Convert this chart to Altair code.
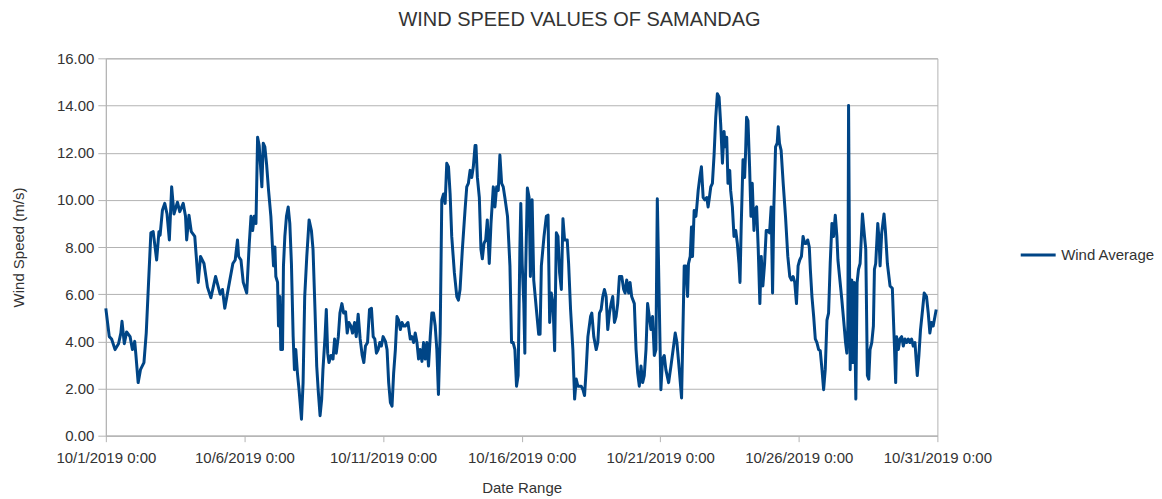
import altair as alt
import pandas as pd

# hours elapsed since 2019-10-01 00:00 (UTC) and wind speed (m/s)
hours = [
    0, 3, 5, 8, 11, 13, 14, 16, 18, 21, 23, 25, 26, 28, 30, 33, 35, 37, 39, 41, 44, 46, 47, 49, 51, 53, 55, 57, 59, 62,
    64, 67, 69, 70, 72, 74, 77, 80, 82, 85, 88, 91, 95, 99, 101, 103, 107, 110, 112, 114, 115, 117, 119, 122,
    124.2, 125.7, 127.1, 128.5, 130.0, 131.4, 132.8, 135.1, 136.3, 137.7, 139.2, 140.9, 142.9, 144.3, 145.2, 146.4,
    147.2, 148.7, 149.5, 150.7, 151.5, 153.0, 153.8, 155.0, 156.4, 157.9, 159.3, 160.7, 162.2, 163.3, 164.5, 165.9,
    167.3, 169.4, 170.8, 172.2, 174.0, 176.0, 178.0, 179.4, 181.1, 182.6, 184.0, 185.5, 186.9, 188.0, 189.8, 190.9,
    192.1, 193.2, 195.0, 196.7, 198.1, 199.5, 201.3, 202.7, 204.4, 205.9, 207.6, 209.0, 210.5, 212.2, 213.6, 215.4,
    216.8, 218.5, 220.2, 222.0, 223.4, 224.8, 226.6, 228.3, 230.0, 231.5, 232.9, 234.3, 235.8, 237.2, 238.6, 240.1,
    242.1, 243.5,
    244.9, 246.4, 247.8, 249.2, 250.7, 252.1, 253.5, 255.0, 256.4, 257.9, 259.3, 261.6, 263.6, 265.0, 266.5, 267.9,
    269.4, 270.8, 272.2, 273.7, 275.1, 276.5, 278.0, 279.4, 280.9, 282.3, 283.7, 285.2, 286.6, 288.0, 289.5, 290.9,
    292.4, 293.8, 295.2, 296.7, 298.1, 299.5, 301.8, 303.9, 305.3, 306.7, 308.7, 311.0, 312.5, 313.9, 315.4, 316.8,
    318.2, 319.7, 320.5, 321.7, 323.4, 324.8, 326.0, 327.4, 328.9, 330.3, 332.0, 333.5, 335.5, 336.9, 338.4, 339.8,
    341.2, 342.7, 344.1, 345.5, 347.8, 349.9, 351.3, 352.7, 354.2, 355.6, 357.0, 358.5, 359.3, 360.5, 361.9, 362.8,
    363.3, 365.0, 366.5, 367.6, 369.1, 370.5, 372.8, 374.8, 376.0, 377.1, 379.4, 381.4, 382.9, 384.3, 385.7, 387.2,
    388.6, 390.1, 391.5, 392.9, 394.4, 395.8, 397.2, 399.5, 400.7, 402.4, 404.4, 405.9, 407.3, 408.7, 410.2, 411.6,
    413.1, 414.5, 415.9, 417.4, 419.7, 420.8, 422.5, 424.6, 426.0, 427.4, 428.9, 430.3, 431.7, 433.2, 434.6, 436.1,
    437.5, 438.9, 440.4, 441.8, 443.2, 444.7, 446.7, 448.4, 449.6, 451.0, 452.7, 453.9, 455.3, 457.6, 459.1, 460.5,
    461.9, 463.4, 464.8, 466.2, 467.7, 469.1, 470.6, 472.0, 473.4, 474.9, 476.3, 477.5, 480.6, 482.0, 483.5, 484.9,
    487.3, 489.3, 491.6, 493.0, 494.5, 496.5, 498.5, 500.8, 502.2, 503.7, 504.5, 506.0, 507.1, 508.0, 509.4, 510.9,
    511.7, 512.9, 514.3, 515.7, 517.2, 518.6, 520.3, 521.5, 522.6, 523.8, 525.2, 526.7, 528.1, 529.5, 531.0, 532.4,
    533.9, 535.3, 536.2, 537.6, 538.7, 540.2, 541.0, 542.5, 543.9, 545.4, 546.8, 548.2, 549.1, 550.2, 551.7, 553.1,
    554.0, 554.8, 556.0, 557.4, 558.6, 559.7, 561.2, 562.0, 563.5, 564.9, 566.3, 567.5, 568.9, 570.4, 571.8, 573.2,
    574.7, 576.1, 577.3, 578.4, 579.9, 581.3, 582.2, 583.3, 584.7, 586.5, 588.5, 590.5, 592.2, 593.7, 595.1, 596.5,
    598.0, 599.4, 600.8, 602.3, 603.7, 605.1,
    606.3, 607.7, 609.1, 610.0, 611.4, 612.9, 614.3, 615.7, 617.2, 618.6, 620.1, 621.5, 622.9, 624.4, 625.8, 627.2,
    628.7, 630.1, 631.6, 633.0, 633.9, 635.3, 637.3, 639.3, 640.5, 641.6, 642.5, 643.1, 644.5, 645.9, 646.8, 648.0,
    649.4, 650.5, 651.7, 653.1, 655.1, 656.9, 658.0, 659.4, 660.6, 661.7, 663.2, 664.6, 665.5, 666.6, 668.4, 669.5,
    670.4, 671.8, 673.8, 675.0, 676.7, 679.0, 681.0, 682.7, 683.9, 684.7, 686.2, 687.6, 689.1, 690.5, 691.9, 693.4,
    694.8, 696.2, 697.7, 699.1, 700.6, 702.6, 704.0, 705.4, 707.2, 708.6, 710.6, 712.1, 713.5, 714.9, 716.4, 719.0,
]

speeds = [
    5.4, 4.2, 4.1, 3.65, 3.9, 4.35, 4.85, 3.9, 4.4, 4.2, 3.65, 4.0, 3.45, 2.25, 2.8, 3.1, 4.36, 6.5, 8.6, 8.65, 7.45,
    8.65, 8.5, 9.56, 9.85, 9.4, 8.3, 10.55, 9.4, 9.9, 9.5, 9.85, 9.3, 8.3, 9.35, 8.65, 8.45, 6.5, 7.6, 7.3, 6.3, 5.85,
    6.75, 6.0, 6.2, 5.4, 6.5, 7.3, 7.45, 8.3, 7.6, 7.45, 6.5, 6.05,
    8.15, 9.3, 8.7, 9.3, 9.0, 12.65, 12.3, 10.55, 12.4, 12.25, 11.5, 10.4, 9.3, 8.0, 7.2, 8.0,
    6.75, 6.5, 4.65, 5.9, 3.65, 3.65, 7.2, 8.45, 9.3, 9.7, 9.0, 7.3, 4.2, 2.8, 3.65, 2.65,
    1.95, 0.7, 2.25, 5.9, 7.6, 9.15, 8.7, 7.9, 5.35, 2.95, 1.85, 0.85, 1.55, 2.8, 4.2, 5.35,
    3.5, 3.1, 3.4, 3.25, 4.1, 3.5, 4.2, 5.2, 5.6, 5.2, 5.25, 4.35, 4.8, 4.65, 4.35, 4.8,
    4.2, 5.15, 4.1, 3.4, 3.1, 3.8, 3.95, 5.35, 5.4, 4.2, 4.1, 3.5, 3.65, 3.95, 3.8, 4.2,
    4.0, 3.65,
    2.25, 1.4, 1.25, 2.65, 3.65, 5.05, 4.9, 4.5, 4.8, 4.65, 4.65, 4.8, 4.1, 4.2, 3.95, 4.35,
    3.95, 3.25, 3.65, 3.15, 3.95, 3.25, 3.95, 2.95, 4.2, 5.2, 5.2, 4.65, 3.65, 1.75, 4.35, 10.0,
    10.25, 9.85, 11.55, 11.4, 10.25, 8.45, 6.9, 5.9, 5.75, 6.2, 7.9, 9.55, 10.55, 10.7, 11.25, 10.95,
    11.4, 12.3, 12.3, 10.95, 10.1, 7.9, 7.5, 8.15, 8.3, 9.15, 7.3, 9.0, 10.55, 9.7, 10.55, 10.4,
    11.9, 10.7, 10.55, 10.1, 9.3, 7.2, 3.95, 3.95, 3.65, 2.1, 2.55, 7.9, 9.85, 7.3, 5.6, 3.5,
    6.5, 10.5, 10.1, 6.75, 10.0, 6.6, 5.35, 4.3, 4.3, 7.2, 8.45, 9.3, 9.35, 4.8, 6.05, 5.6,
    3.6, 8.6, 8.45, 6.9, 6.2, 9.2, 8.3, 8.3, 7.3, 5.35, 3.65, 1.55, 2.4, 2.1, 2.1, 2.1,
    1.95, 1.7, 2.8, 4.2, 5.05, 5.2, 4.2, 3.65, 3.95, 5.2, 5.35, 5.9, 6.2, 5.9, 4.5, 5.2,
    5.6, 5.9, 4.8, 5.05, 5.6, 6.75, 6.75, 6.2, 6.05, 6.6, 6.05, 6.5, 5.9, 5.6, 3.65, 2.65,
    2.1, 2.95, 2.25, 2.55, 3.65, 5.6, 5.05, 4.5, 5.05, 3.4, 3.65, 10.05, 1.95, 3.25, 3.4, 2.8,
    2.25, 2.95, 3.8, 4.35, 3.95, 2.8, 1.6, 7.2, 7.2, 5.9, 7.3, 7.6, 8.85, 7.6, 9.55, 9.3,
    9.7, 10.4, 10.95, 11.4, 10.1, 10.0, 10.1, 9.7, 10.1, 10.55, 10.7, 11.95, 13.5, 14.5, 14.35, 13.2,
    11.55, 12.9, 12.25, 12.65, 10.7, 11.25, 10.4, 9.7, 8.45, 8.7, 8.15, 7.3, 6.5, 9.0, 11.7, 10.95,
    12.1, 13.5, 13.35, 11.4, 9.3, 10.7, 8.7, 9.55, 9.7, 7.9, 5.6, 7.6, 6.35, 7.3, 8.7, 8.7,
    8.6, 9.7, 6.05, 9.7, 12.25, 12.4, 13.1, 12.4, 12.1, 10.7, 9.3, 7.6, 6.75, 6.6, 6.75, 6.5,
    5.6, 7.2, 7.45, 7.6, 8.45, 8.15,
    8.15, 8.3, 8.0, 7.05, 5.9, 5.05, 4.1, 3.95, 3.65, 3.6, 2.8, 1.95, 2.8, 4.9, 5.2, 7.3,
    9.0, 8.45, 9.35, 8.45, 7.45, 6.75, 5.75, 4.65, 3.95, 3.5, 4.65, 14.0, 2.8, 6.6, 3.1, 6.5,
    1.55, 6.5, 7.05, 7.3, 9.4, 8.45, 7.9, 2.55, 2.4, 3.65, 3.95, 4.65, 7.05, 7.3, 9.0, 8.3,
    7.2, 8.6, 9.4, 8.7, 7.3, 6.35, 6.25, 3.95, 2.25, 4.2, 3.65, 4.1, 4.2, 3.8, 4.1, 3.95,
    4.1, 3.95, 4.1, 3.8, 3.95, 2.55, 3.4, 4.5, 5.35, 6.05, 5.9, 5.2, 4.35, 4.8, 4.65, 5.35,
]

series_name = "Wind Average"
title_text = "WIND SPEED VALUES OF SAMANDAG"
x_title = "Date Range"
y_title = "Wind Speed (m/s)"
tick_days = [0, 5, 10, 15, 20, 25, 30]
y_ticks = [0, 2, 4, 6, 8, 10, 12, 14, 16]

START_MS = 1569888000000  # 2019-10-01T00:00:00Z
HOUR_MS = 3600000
DAY_MS = 86400000

df = pd.DataFrame({
    "time": [START_MS + h * HOUR_MS for h in hours],
    "speed": speeds,
    "series": series_name,
})

tick_ms = [START_MS + d * DAY_MS for d in tick_days]

FONT = "Liberation Sans"
GRID = "#b3b3b3"
TEXT = "#333333"

chart = alt.Chart(df).mark_line(strokeWidth=3, strokeJoin="round").encode(
    x=alt.X(
        "time:T",
        scale=alt.Scale(type="utc", domain=[tick_ms[0], tick_ms[-1]], nice=False),
        axis=alt.Axis(
            values=tick_ms,
            labelExpr="utcFormat(datum.value, '%-m/%-d/%Y %-H:%M')",
            title=x_title,
            grid=False,
            tickSize=6,
            labelPadding=9,
            titlePadding=15,
            labelFlush=False,
            labelOverlap=False,
        ),
    ),
    y=alt.Y(
        "speed:Q",
        scale=alt.Scale(domain=[0, 16], nice=False, zero=True),
        axis=alt.Axis(
            values=y_ticks,
            format=".2f",
            title=y_title,
            grid=True,
            tickSize=8,
            labelPadding=4,
            titlePadding=30,
        ),
    ),
    color=alt.Color(
        "series:N",
        scale=alt.Scale(range=["#004586"]),
        legend=alt.Legend(
            title=None,
            orient="none",
            legendX=915,
            legendY=178,
            symbolType="stroke",
            symbolStrokeWidth=3,
            symbolSize=1225,
            labelFontSize=15,
            labelFont=FONT,
            labelColor=TEXT,
            labelOffset=4,
            labelLimit=300,
        ),
    ),
).properties(
    width=833,
    height=378,
    title=alt.Title(
        title_text,
        fontSize=20,
        font=FONT,
        fontWeight="normal",
        color=TEXT,
        anchor="middle",
        dx=58,
        offset=21,
    ),
    autosize=alt.AutoSizeParams(type="none"),
    padding={"left": 98, "top": 50, "right": 217, "bottom": 62},
).configure_axis(
    labelFont=FONT,
    labelFontSize=15,
    labelColor=TEXT,
    titleFont=FONT,
    titleFontSize=15,
    titleFontWeight="normal",
    titleColor=TEXT,
    domainColor=GRID,
    tickColor=GRID,
    gridColor=GRID,
).configure_view(
    stroke=GRID,
)

chart.save("out.html", embed_options={"renderer": "svg", "actions": False})
